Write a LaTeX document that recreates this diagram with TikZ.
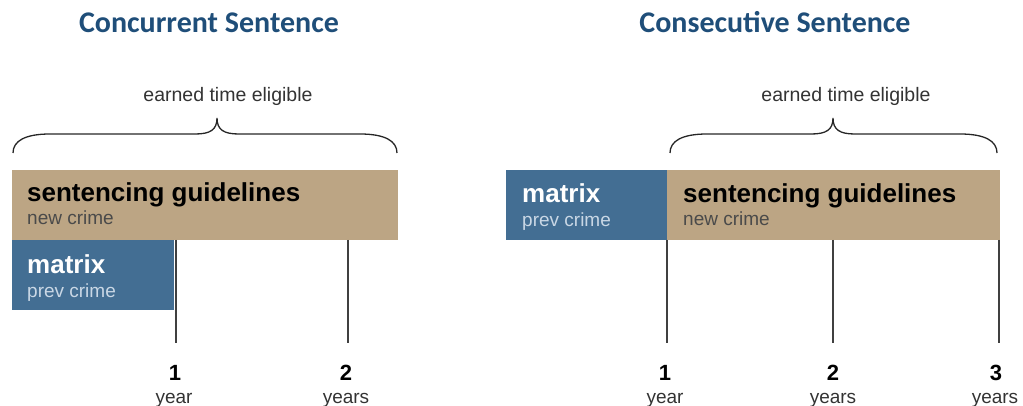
\documentclass[tikz,border=0pt]{standalone}
\usepackage{fontspec}
\setmainfont{Liberation Sans}
\newfontfamily\titlefont{Carlito}
\definecolor{titleblue}{HTML}{1F4E79}
\definecolor{tanbar}{HTML}{BCA584}
\definecolor{bluebar}{HTML}{436E93}
\definecolor{subgray}{HTML}{4A4A4A}
\definecolor{sublight}{HTML}{C9D7E5}
\definecolor{labgray}{HTML}{333333}
\begin{document}
\begin{tikzpicture}[x=1pt,y=-1pt,
  title/.style={font=\titlefont\bfseries\fontsize{30}{34}\selectfont, text=titleblue, inner sep=0, anchor=base},
  note/.style={font=\fontsize{19.5}{22}\selectfont, text=labgray, inner sep=0, anchor=base},
  bar/.style={draw=none, inner sep=0, anchor=north west},
  head/.style={font=\bfseries\fontsize{26}{30}\selectfont, anchor=base west, inner sep=0},
  sub/.style={font=\fontsize{19}{22}\selectfont, anchor=base west, inner sep=0},
  num/.style={font=\bfseries\fontsize{22}{26}\selectfont, anchor=base, inner sep=0},
  unit/.style={font=\fontsize{19}{22}\selectfont, text=labgray, anchor=base, inner sep=0},
  tick/.style={draw=black!75, line width=1.2pt},
  bracket/.style={draw=black!85, line width=1.3pt}]
\useasboundingbox (0,0) rectangle (1023,406);

% ---------- concurrent ----------
\node[title] (tA) at (209,33) {Concurrent Sentence};
\node[note] (eA) at (228,102) {earned time eligible};
\draw[bracket] (13,153) .. controls (13,141) and (25,134) .. (50,134)
  -- (195,134) .. controls (210,134) and (217,130) .. (217,118)
  .. controls (217,130) and (224,134) .. (239,134)
  -- (360,134) .. controls (385,134) and (397,141) .. (397,153);

\node[bar, fill=tanbar, minimum width=386, minimum height=70] (sgA) at (12,170) {};
\node[bar, fill=bluebar, minimum width=162, minimum height=70] (mxA) at (12,240) {};
\node[head] (sgAh) at (27,202) {sentencing guidelines};
\node[sub, text=subgray] (sgAs) at (27,225) {new crime};
\node[head, text=white] (mxAh) at (27,273) {matrix};
\node[sub, text=sublight] (mxAs) at (27,297) {prev crime};

\coordinate (a1t) at (176,240); \coordinate (a1b) at (176,343);
\coordinate (a2t) at (348,240); \coordinate (a2b) at (348,343);
\draw[tick] (a1t) -- (a1b);
\draw[tick] (a2t) -- (a2b);
\node[num] (a1n) at (175,380) {1};
\node[unit] (a1u) at (174,403) {year};
\node[num] (a2n) at (346,380) {2};
\node[unit] (a2u) at (346,403) {years};

% ---------- consecutive ----------
\node[title] (tB) at (775,33) {Consecutive Sentence};
\node[note] (eB) at (846,102) {earned time eligible};
\draw[bracket] (670,153) .. controls (670,141) and (682,134) .. (707,134)
  -- (811,134) .. controls (826,134) and (833,130) .. (833,118)
  .. controls (833,130) and (840,134) .. (855,134)
  -- (960,134) .. controls (985,134) and (997,141) .. (997,153);

\node[bar, fill=bluebar, minimum width=161, minimum height=70] (mxB) at (506,170) {};
\node[bar, fill=tanbar, minimum width=333, minimum height=70] (sgB) at (667,170) {};
\node[head, text=white] (mxBh) at (522,203) {matrix};
\node[sub, text=sublight] (mxBs) at (522,227) {prev crime};
\node[head] (sgBh) at (683,203) {sentencing guidelines};
\node[sub, text=subgray] (sgBs) at (683,226) {new crime};

\coordinate (b1t) at (667,240); \coordinate (b1b) at (667,343);
\coordinate (b2t) at (833,240); \coordinate (b2b) at (833,343);
\coordinate (b3t) at (999,240); \coordinate (b3b) at (999,343);
\draw[tick] (b1t) -- (b1b);
\draw[tick] (b2t) -- (b2b);
\draw[tick] (b3t) -- (b3b);
\node[num] (b1n) at (665,380) {1};
\node[unit] (b1u) at (665,403) {year};
\node[num] (b2n) at (833,380) {2};
\node[unit] (b2u) at (833,403) {years};
\node[num] (b3n) at (996,380) {3};
\node[unit] (b3u) at (995,403) {years};
\end{tikzpicture}
\end{document}
